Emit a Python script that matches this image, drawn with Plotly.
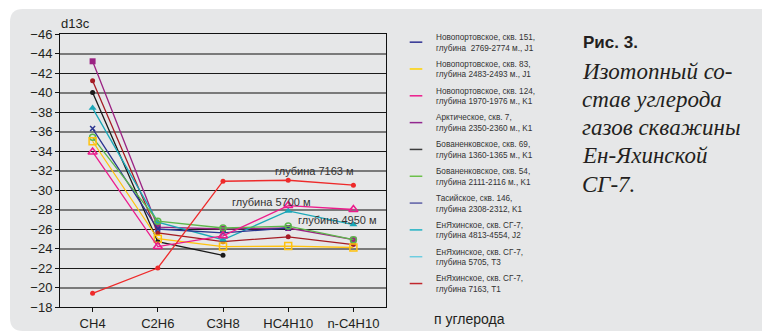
import plotly.graph_objects as go

# Hydrocarbon components on the x axis
components = ["CH4", "C2H6", "C3H8", "HC4H10", "n-C4H10"]

# d13C values (per mil) for each well, one value per component
arctic_7 = [-43.2, -26.2, -26.0, -26.1, -24.9]
tasiy_146 = [-41.2, -25.6, -24.7, -25.2, -24.4]
bovan_69 = [-40.0, -24.7, -23.3, None, None]
enyakh_4950 = [-38.4, -26.7, -24.9, -27.85, -26.45]
novoport_151 = [-36.3, -26.0, -25.6, -26.1, None]
bovan_54 = [-35.4, -26.8, -26.1, -26.3, -24.9]
novoport_83 = [-35.0, -25.0, -24.2, -24.25, -24.1]
novoport_124 = [-33.9, -24.2, -25.3, -28.4, -28.0]
enyakh_7163 = [-19.4, -22.0, -30.9, -31.0, -30.5]

# Legend entries (names and swatch colours)
legend_names = [
    "Новопортовское, скв. 151,<br>глубина  2769-2774 м., J1",
    "Новопортовское, скв. 83,<br>глубина 2483-2493 м., J1",
    "Новопортовское, скв. 124,<br>глубина 1970-1976 м., K1",
    "Арктическое, скв. 7,<br>глубина 2350-2360 м., K1",
    "Бованенковское, скв. 69,<br>глубина 1360-1365 м., K1",
    "Бованенковское, скв. 54,<br>глубина 2111-2116 м., K1",
    "Тасийское, скв. 146,<br>глубина 2308-2312, K1",
    "ЕнЯхинское, скв. СГ-7,<br>глубина 4813-4554, J2",
    "ЕнЯхинское, скв. СГ-7,<br>глубина 5705, T3",
    "ЕнЯхинское, скв. СГ-7,<br>глубина 7163, T1",
]
legend_colors = ["#2e3192", "#ffd200", "#ec1c8c", "#92278f", "#3c3c3c",
                 "#6cc04a", "#5b5ea6", "#21b1c3", "#6dcde0", "#c1272d"]

# Depth labels: (text, component position, value)
depth_labels = [("глубина 7163 м", 3.41, -32.0),
                ("глубина 5700 м", 2.74, -28.8),
                ("глубина 4950 м", 3.75, -26.9)]

caption_title = "Рис. 3."
caption_lines = ["Изотопный со-", "став углерода", "газов скважины",
                 "Ен-Яхинской", "СГ-7."]

W, H = 762, 332
ML, MR, MT, MB = 60, 376, 34, 25
PW, PH = W - ML - MR, H - MT - MB


def px(x):
    return (x - ML) / PW


def py(y):
    return (H - MB - y) / PH


series = [
    # values, colour, marker symbol, marker size, open marker
    (arctic_7, "#9b2383", "square", 6, False),
    (tasiy_146, "#a51c24", "circle", 5, False),
    (bovan_69, "#1a1a1a", "circle", 5, False),
    (enyakh_4950, "#1aa7b8", "triangle-up", 7, False),
    (novoport_151, "#2b3590", "x-thin", 5, True),
    (bovan_54, "#5cb84a", "circle-open", 6, True),
    (novoport_83, "#ffc20e", "square-open", 7, True),
    (novoport_124, "#ec1c8c", "triangle-up-open", 8, True),
    (enyakh_7163, "#ee2a2a", "circle", 5, False),
]

fig = go.Figure()

for vals, col, sym, size, is_open in series:
    fig.add_trace(go.Scatter(
        x=components, y=vals, mode="lines+markers",
        line=dict(color=col, width=1.3),
        marker=dict(symbol=sym, size=size, color=col,
                    line=dict(color=col, width=1.5 if is_open else 0)),
        connectgaps=False, showlegend=False, cliponaxis=False,
    ))

# Legend swatches
for i, (name, col) in enumerate(zip(legend_names, legend_colors)):
    fig.add_trace(go.Scatter(
        x=[None], y=[None], mode="markers", name=name, yaxis="y2",
        legendgroup=f"g{i}",
        marker=dict(symbol="line-ew", size=9, color=col,
                    line=dict(color=col, width=1.5)),
    ))

annotations = [
    dict(text=t, x=xi, y=yi, xref="x", yref="y", showarrow=False,
         font=dict(family="Liberation Sans, Arial", size=11, color="#333333"))
    for t, xi, yi in depth_labels
]
annotations.append(dict(text="d13c", x=px(59), y=py(24), xref="paper", yref="paper",
                        xanchor="left", yanchor="middle", showarrow=False,
                        font=dict(family="Liberation Sans, Arial", size=13, color="#231f20")))
annotations.append(dict(text="п углерода", x=px(432), y=py(318.5), xref="paper", yref="paper",
                        xanchor="left", yanchor="middle", showarrow=False,
                        font=dict(family="Liberation Sans, Arial", size=14, color="#231f20")))
annotations.append(dict(text=f"<b>{caption_title}</b>", x=px(581), y=py(42), xref="paper",
                        yref="paper", xanchor="left", yanchor="middle", showarrow=False,
                        font=dict(family="Liberation Sans, Arial", size=17, color="#231f20")))
for k, line in enumerate(caption_lines):
    annotations.append(dict(text=f"<i>{line}</i>", x=px(580), y=py(71 + 28.3 * k),
                            xref="paper", yref="paper", xanchor="left", yanchor="middle",
                            align="left", showarrow=False,
                            font=dict(family="Liberation Serif", size=23, color="#231f20")))

# Rounded grey card behind the chart
x0, x1, y0, y1 = px(10), px(775), py(9), py(331)
rx, ry = 13 / PW, 13 / PH
card = (f"M{x0 + rx},{y0} L{x1},{y0} L{x1},{y1} L{x0 + rx},{y1} "
        f"Q{x0},{y1} {x0},{y1 + ry} L{x0},{y0 - ry} Q{x0},{y0} {x0 + rx},{y0} Z")

axis_font = dict(family="Liberation Sans, Arial", size=13, color="#231f20")

fig.update_layout(
    width=W, height=H,
    margin=dict(l=ML, r=MR, t=MT, b=MB),
    paper_bgcolor="white", plot_bgcolor="rgba(0,0,0,0)",
    shapes=[dict(type="path", path=card, xref="paper", yref="paper",
                 fillcolor="#e6e7e8", line=dict(width=0), layer="below")],
    annotations=annotations,
    showlegend=True,
    legend=dict(x=px(396), y=py(25), xanchor="left", yanchor="top",
                bgcolor="rgba(0,0,0,0)", tracegroupgap=2.5, maxheight=320,
                font=dict(family="Liberation Sans, Arial", size=8.2, color="#333333")),
    xaxis=dict(type="category", range=[-0.5, 4.5], showgrid=False, automargin=False,
               showline=True, linecolor="#111111", linewidth=1, mirror=True,
               ticks="outside", ticklen=4, tickcolor="#111111",
               tickfont=axis_font, zeroline=False),
    yaxis=dict(range=[-18, -46], dtick=2, tick0=-46, showgrid=True, automargin=False,
               gridcolor="#1a1a1a", gridwidth=1,
               showline=True, linecolor="#111111", linewidth=1, mirror=True,
               ticks="outside", ticklen=4, tickcolor="#111111",
               tickfont=axis_font, zeroline=False),
    yaxis2=dict(overlaying="y", range=[-18, -46], tick0=-44, dtick=4, automargin=False,
                showgrid=True, gridcolor="#7a7a7a", gridwidth=2,
                showticklabels=False, zeroline=False, showline=False),
)

fig.write_html("out.html")
